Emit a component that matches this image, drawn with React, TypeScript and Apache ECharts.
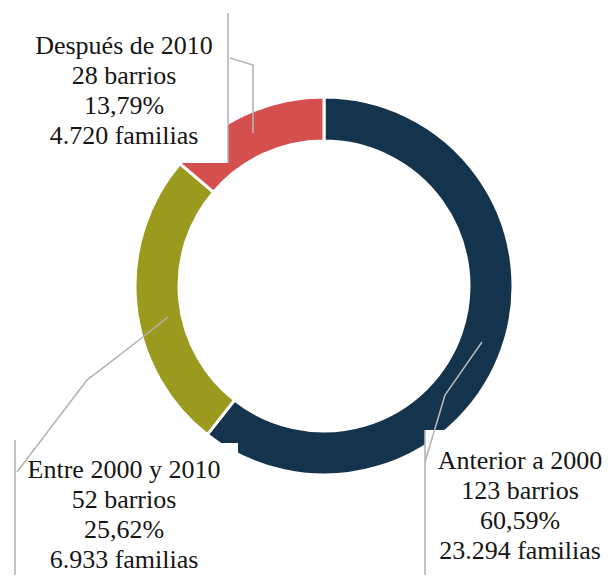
import React, { useEffect, useRef } from "react";
import * as echarts from "echarts";

const categories = ["Anterior a 2000", "Entre 2000 y 2010", "Después de 2010"];
const barrios = [123, 52, 28];
const percentLabels = ["60,59%", "25,62%", "13,79%"];
const familias = ["23.294", "6.933", "4.720"];
const colors = ["#14334d", "#9a9a1e", "#d54f4f"];

// label centres (layout only)
const labelPos: [number, number][] = [
  [520, 505],
  [124, 514],
  [124, 90],
];

export default function App() {
  const ref = useRef<HTMLDivElement>(null);
  useEffect(() => {
    if (!ref.current) return;
    const chart = echarts.init(ref.current, undefined, { renderer: "svg" });
    const data = categories.map((c, i) => ({
      name: c,
      value: barrios[i],
      itemStyle: { color: colors[i] },
    }));
    const lineStyle = { stroke: "#b4b4b4", lineWidth: 1.6, fill: "none" };
    chart.setOption({
      animation: false,
      backgroundColor: "#ffffff",
      series: [
        {
          type: "pie",
          z: 1,
          center: [324, 286],
          radius: [145, 189],
          startAngle: 90,
          clockwise: true,
          silent: true,
          label: { show: false },
          labelLine: { show: false },
          itemStyle: { borderColor: "#ffffff", borderWidth: 3 },
          data,
        },
        {
          type: "pie",
          z: 3,
          center: [324, 286],
          radius: [145, 189],
          startAngle: 90,
          clockwise: true,
          silent: true,
          itemStyle: { color: "rgba(0,0,0,0)" },
          labelLine: { show: false },
          label: {
            show: true,
            position: "outside",
            overflow: "none",
            width: 260,
            fontFamily: "'Liberation Serif', 'DejaVu Serif', serif",
            fontSize: 26,
            lineHeight: 30,
            color: "#151515",
            align: "center",
            formatter: (p: any) =>
              [
                categories[p.dataIndex],
                `${barrios[p.dataIndex]} barrios`,
                percentLabels[p.dataIndex],
                `${familias[p.dataIndex]} familias`,
              ].join("\n"),
          },
          labelLayout: (p: any) => ({
            x: labelPos[p.dataIndex][0],
            y: labelPos[p.dataIndex][1],
            align: "center",
            verticalAlign: "middle",
          }),
          data: categories.map((c, i) => ({ name: c, value: barrios[i] })),
        },
      ],
      graphic: [
        { type: "rect", z: 2, shape: { x: 0, y: 0, width: 228, height: 163 }, style: { fill: "#ffffff" } },
        { type: "rect", z: 2, shape: { x: 15, y: 443, width: 223, height: 136 }, style: { fill: "#ffffff" } },
        { type: "rect", z: 2, shape: { x: 425, y: 430, width: 183, height: 149 }, style: { fill: "#ffffff" } },
        { type: "line", z: 4, shape: { x1: 228, y1: 13, x2: 228, y2: 163 }, style: lineStyle },
        { type: "polyline", z: 4, shape: { points: [[253, 133], [253, 65], [230, 58]] }, style: lineStyle },
        { type: "line", z: 4, shape: { x1: 15, y1: 440, x2: 15, y2: 575 }, style: lineStyle },
        { type: "polyline", z: 4, shape: { points: [[168, 317], [143, 337], [87, 380], [17, 472]] }, style: lineStyle },
        { type: "line", z: 4, shape: { x1: 425, y1: 430, x2: 425, y2: 575 }, style: lineStyle },
        { type: "polyline", z: 4, shape: { points: [[482, 342], [445, 395], [425, 462]] }, style: lineStyle },
      ],
    });
    return () => chart.dispose();
  }, []);
  return (
    <div
      ref={ref}
      style={{ position: "fixed", left: 0, top: 0, width: 608, height: 579, background: "#fff" }}
    />
  );
}
